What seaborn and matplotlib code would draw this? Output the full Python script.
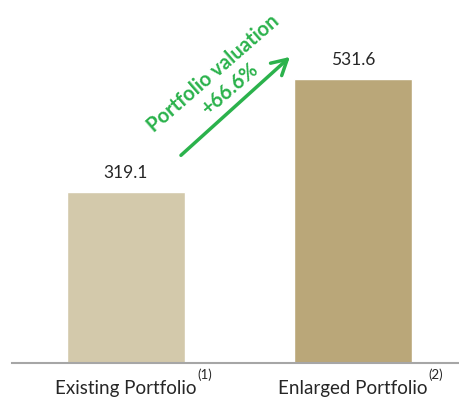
import matplotlib
matplotlib.use("Agg")
import matplotlib.pyplot as plt
import seaborn as sns
import pandas as pd

# Portfolio values
categories = ["Existing Portfolio", "Enlarged Portfolio"]
notes = ["(1)", "(2)"]
values = [319.1, 531.6]
bar_colors = ["#D3C9AB", "#BAA779"]
green = "#2BB24C"

sns.set_theme(style="white")
plt.rcParams["font.family"] = ["Lato", "DejaVu Sans"]

df = pd.DataFrame({"portfolio": categories, "value": values})

fig = plt.figure(figsize=(4.6, 3.97), dpi=100)
ax = fig.add_axes([12 / 460, 34 / 397, 448 / 460, 363 / 397])

sns.barplot(data=df, x="portfolio", y="value", hue="portfolio",
            palette=bar_colors, width=0.52, legend=False, ax=ax,
            saturation=1)

ax.set_xlim(-0.502, 1.471)
ax.set_ylim(0, 679)
ax.set_xlabel("")
ax.set_ylabel("")
ax.set_yticks([])
for side in ["top", "right", "left"]:
    ax.spines[side].set_visible(False)
ax.spines["bottom"].set_color("#A6A6A6")
ax.spines["bottom"].set_linewidth(1.5)
ax.tick_params(axis="x", length=0, pad=12.5, labelsize=13.5, colors="#262626")

# value labels above bars
for i, v in enumerate(values):
    ax.annotate(f"{v:.1f}", (i, v), xytext=(0, 8), textcoords="offset points",
                ha="center", va="bottom", fontsize=12.5, color="#262626")

# footnote markers next to the category labels
fig.canvas.draw()
renderer = fig.canvas.get_renderer()
inv = fig.transFigure.inverted()
for lab, note in zip(ax.get_xticklabels(), notes):
    bb = lab.get_window_extent(renderer)
    x, y = inv.transform((bb.x1 + 1, bb.y1 - 1))
    fig.text(x, y, note, fontsize=9.5, color="#262626", ha="left", va="bottom")

# growth arrow and annotation
growth = (values[1] / values[0] - 1) * 100
ax.annotate("", xy=(0.731, 576), xytext=(0.233, 385),
            arrowprops=dict(arrowstyle="->,head_length=0.9,head_width=0.5",
                            color=green, lw=2.5))
ax.text(0.383, 542, "Portfolio valuation", rotation=41, rotation_mode="anchor",
        ha="center", va="center", fontsize=14.5, fontweight="bold", color=green)
ax.text(0.458, 512, f"+{growth:.1f}%", rotation=41, rotation_mode="anchor",
        ha="center", va="center", fontsize=14.5, fontweight="bold", color=green)

fig.savefig("out.png", dpi=100)
